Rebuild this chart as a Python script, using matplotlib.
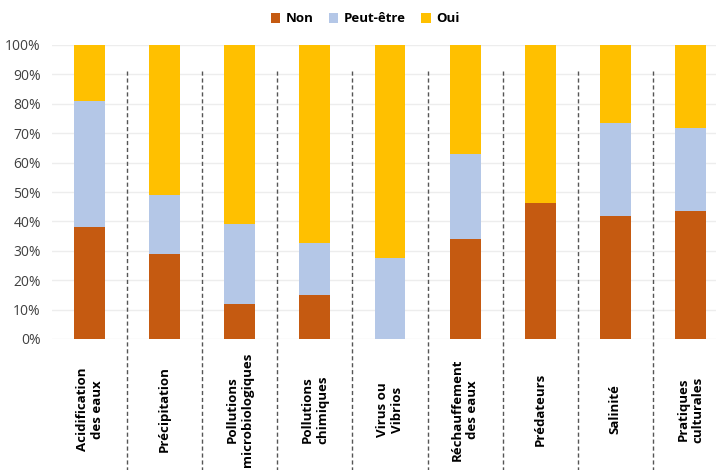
import matplotlib.pyplot as plt
import numpy as np

categories = ["Acidification\ndes eaux", "Précipitation", "Pollutions\nmicrobiologiques",
              "Pollutions\nchimiques", "Virus ou\nVibrios", "Réchauffement\ndes eaux",
              "Prédateurs", "Salinité", "Pratiques\nculturales"]
non = [38, 29, 12, 15, 0, 34, 46.4, 42, 43.5]
peut_etre = [43, 20, 27, 17.5, 27.5, 29, 0, 31.5, 28.3]
oui = [19, 51, 61, 67.5, 72.5, 37, 53.6, 26.5, 28.2]

plt.rcParams['font.family'] = ['Open Sans', 'DejaVu Sans']

fig = plt.figure(figsize=(7.16, 4.70), dpi=100)
# axes extends past the right edge like the cropped original
ax = fig.add_axes([52 / 716, 1 - 339 / 470, 676 / 716, 294 / 470])

x = np.arange(len(categories))
non = np.array(non)
peut_etre = np.array(peut_etre)
oui = np.array(oui)
w = 0.41
ax.bar(x, non, w, color="#C55A11", label="Non", zorder=3)
ax.bar(x, peut_etre, w, bottom=non, color="#B4C7E7", label="Peut-être", zorder=3)
ax.bar(x, oui, w, bottom=non + peut_etre, color="#FFC000", label="Oui", zorder=3)

ax.set_xlim(-0.5, 8.5)
ax.set_ylim(0, 100)
ax.set_yticks(np.arange(0, 101, 10))
ax.set_yticklabels([f"{v}%" for v in range(0, 101, 10)], fontsize=10, color="#404040")
ax.set_xticks([])
ax.grid(axis="y", color="#EDEDED", lw=1, zorder=0)
ax.tick_params(axis="y", length=0, pad=8)
for s in ax.spines.values():
    s.set_visible(False)

# dashed separators running down into the label area
for i in range(len(categories) - 1):
    ax.plot([i + 0.5, i + 0.5], [91.2, -44.6], ls=(0, (3, 2)), color="#555555",
            lw=1, clip_on=False, zorder=4)

for i, c in enumerate(categories):
    ax.text(i, -24, c, rotation=90, ha="center", va="center", fontsize=9.5,
            fontweight="bold", multialignment="center", clip_on=False)

fig.legend(loc="center", bbox_to_anchor=(365 / 716, 1 - 19 / 470), ncol=3, frameon=False,
           fontsize=9.5, handlelength=0.7, handleheight=0.7, handletextpad=0.4,
           columnspacing=1.2, prop={"weight": "bold", "size": 9.5})

fig.savefig("out.png", dpi=100)
